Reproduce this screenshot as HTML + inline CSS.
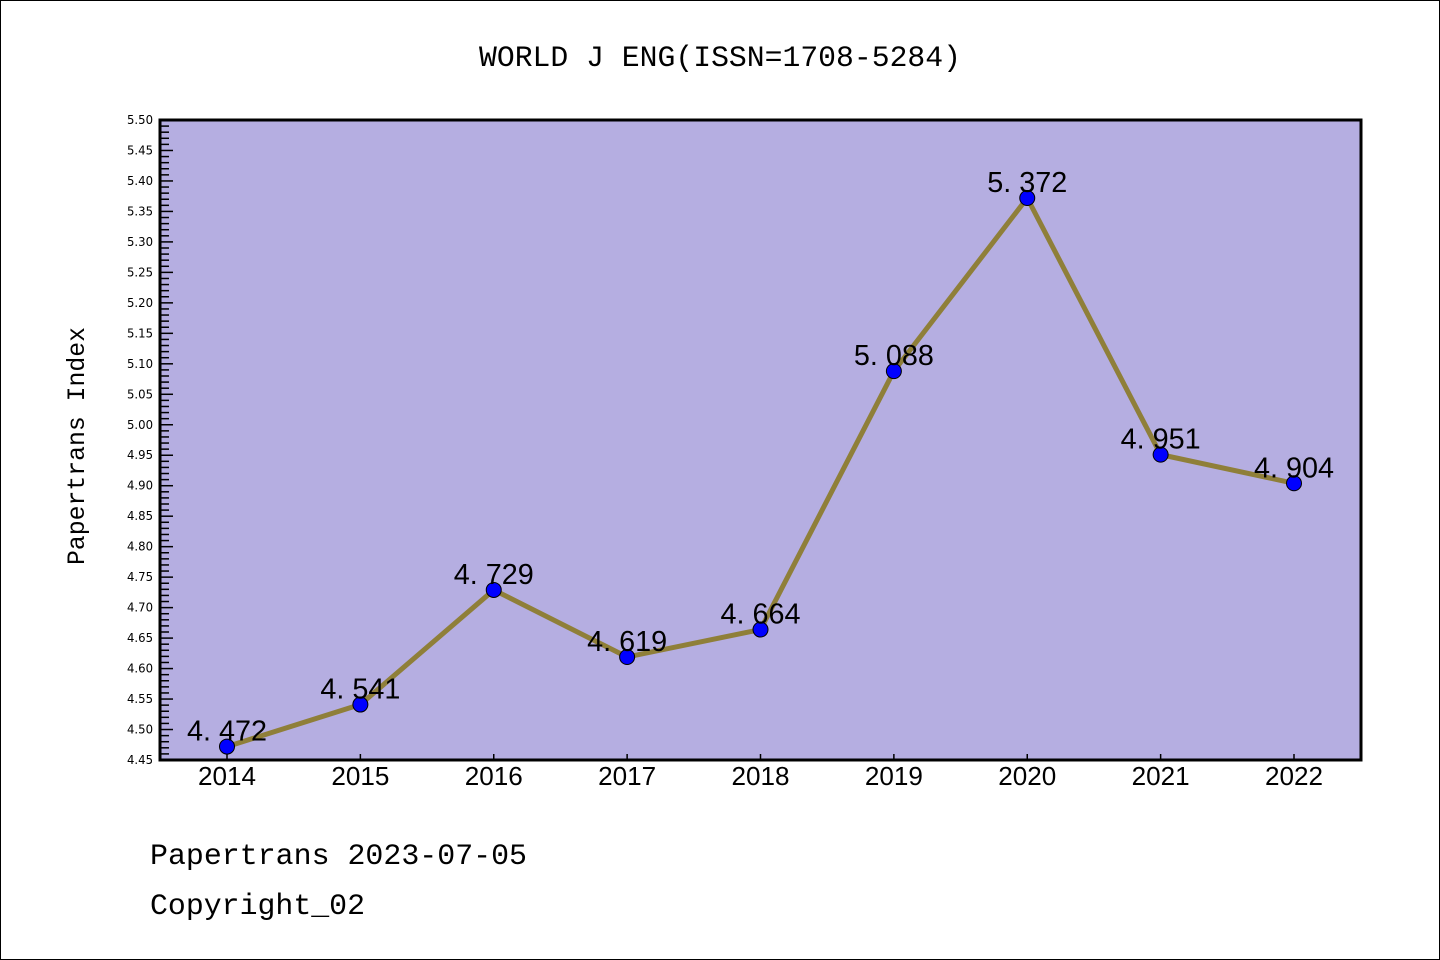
<!DOCTYPE html>
<html><head><meta charset="utf-8"><style>
html,body{margin:0;padding:0;background:#fff;}
svg{display:block;font-family:"Liberation Mono","WenQuanYi Zen Hei",monospace;}
</style></head><body>
<svg id="chart" width="1440" height="960">
<rect x="0.5" y="0.5" width="1439" height="959" fill="#fff" stroke="#000"/>
<text x="720" y="66" font-size="30" text-anchor="middle" textLength="482" lengthAdjust="spacingAndGlyphs">WORLD J ENG(ISSN=1708-5284)</text>
<rect x="160" y="120" width="1201" height="640" fill="#b5aee1"/>
<g id="ticks"></g>
<g id="series"></g>
<rect x="160" y="120" width="1201" height="640" fill="none" stroke="#000" stroke-width="3"/>
<text transform="translate(84,446) rotate(-90)" font-size="25" text-anchor="middle" textLength="238" lengthAdjust="spacingAndGlyphs">Papertrans Index</text>
<text x="150" y="864" font-size="30" textLength="377" lengthAdjust="spacingAndGlyphs">Papertrans 2023-07-05</text>
<text x="150" y="914" font-size="30" textLength="215" lengthAdjust="spacingAndGlyphs">Copyright_02</text>
</svg>
<script>
const years = ["2014","2015","2016","2017","2018","2019","2020","2021","2022"];
const values = [4.472,4.541,4.729,4.619,4.664,5.088,5.372,4.951,4.904];
const labels = ["4. 472","4. 541","4. 729","4. 619","4. 664","5. 088","5. 372","4. 951","4. 904"];
const yMin = 4.45, yMax = 5.50;
const NS = "http://www.w3.org/2000/svg";
function yS(v){return 760 - (v - yMin)/(yMax - yMin)*640;}
function xS(i){return 227 + i*133.375;}
function mk(tag, attrs, parent){const e=document.createElementNS(NS,tag);for(const k in attrs)e.setAttribute(k,attrs[k]);parent.appendChild(e);return e;}
const tg=document.getElementById('ticks');
for(let k=0;k<=105;k++){
  const v=yMin+k*0.01, y=yS(v), major=(k%5===0);
  const t=mk('line',{x1:160,x2:160+(major?13:9),y1:y,y2:y,stroke:'#000','stroke-width':1.5},tg);
  
  
  if(major){
    const l=mk('text',{x:153,y:y+4,'font-size':12,'text-anchor':'end',textLength:26,lengthAdjust:'spacingAndGlyphs','font-family':'"DejaVu Sans",sans-serif'},tg);
    l.textContent=v.toFixed(2);
    
    
  }
}
years.forEach((yr,i)=>{
  const x=xS(i);
  const t=mk('line',{x1:x,x2:x,y1:760,y2:754,stroke:'#000','stroke-width':1.5},tg);
  
  
  const l=mk('text',{x:x,y:785,'font-size':26,'text-anchor':'middle',textLength:58,lengthAdjust:'spacingAndGlyphs','font-family':'"Liberation Sans",sans-serif'},tg);
  l.textContent=yr;
  
  
});
const sg=document.getElementById('series');
const line=mk('polyline',{points:values.map((v,i)=>xS(i)+','+yS(v)).join(' '),fill:'none',stroke:'#8f7f39','stroke-width':5,'stroke-linejoin':'round'},sg);


values.forEach((v,i)=>{
  const c=mk('circle',{cx:xS(i),cy:yS(v),r:7.5,fill:'#0000ff',stroke:'#000','stroke-width':1},sg);
  
  
});
values.forEach((v,i)=>{
  const l=mk('text',{x:xS(i),y:yS(v)-6,'font-size':29,'text-anchor':'middle',textLength:80,lengthAdjust:'spacingAndGlyphs','font-family':'"Liberation Sans",sans-serif'},sg);
  l.textContent=labels[i];
  
  
});
</script>
</body></html>
